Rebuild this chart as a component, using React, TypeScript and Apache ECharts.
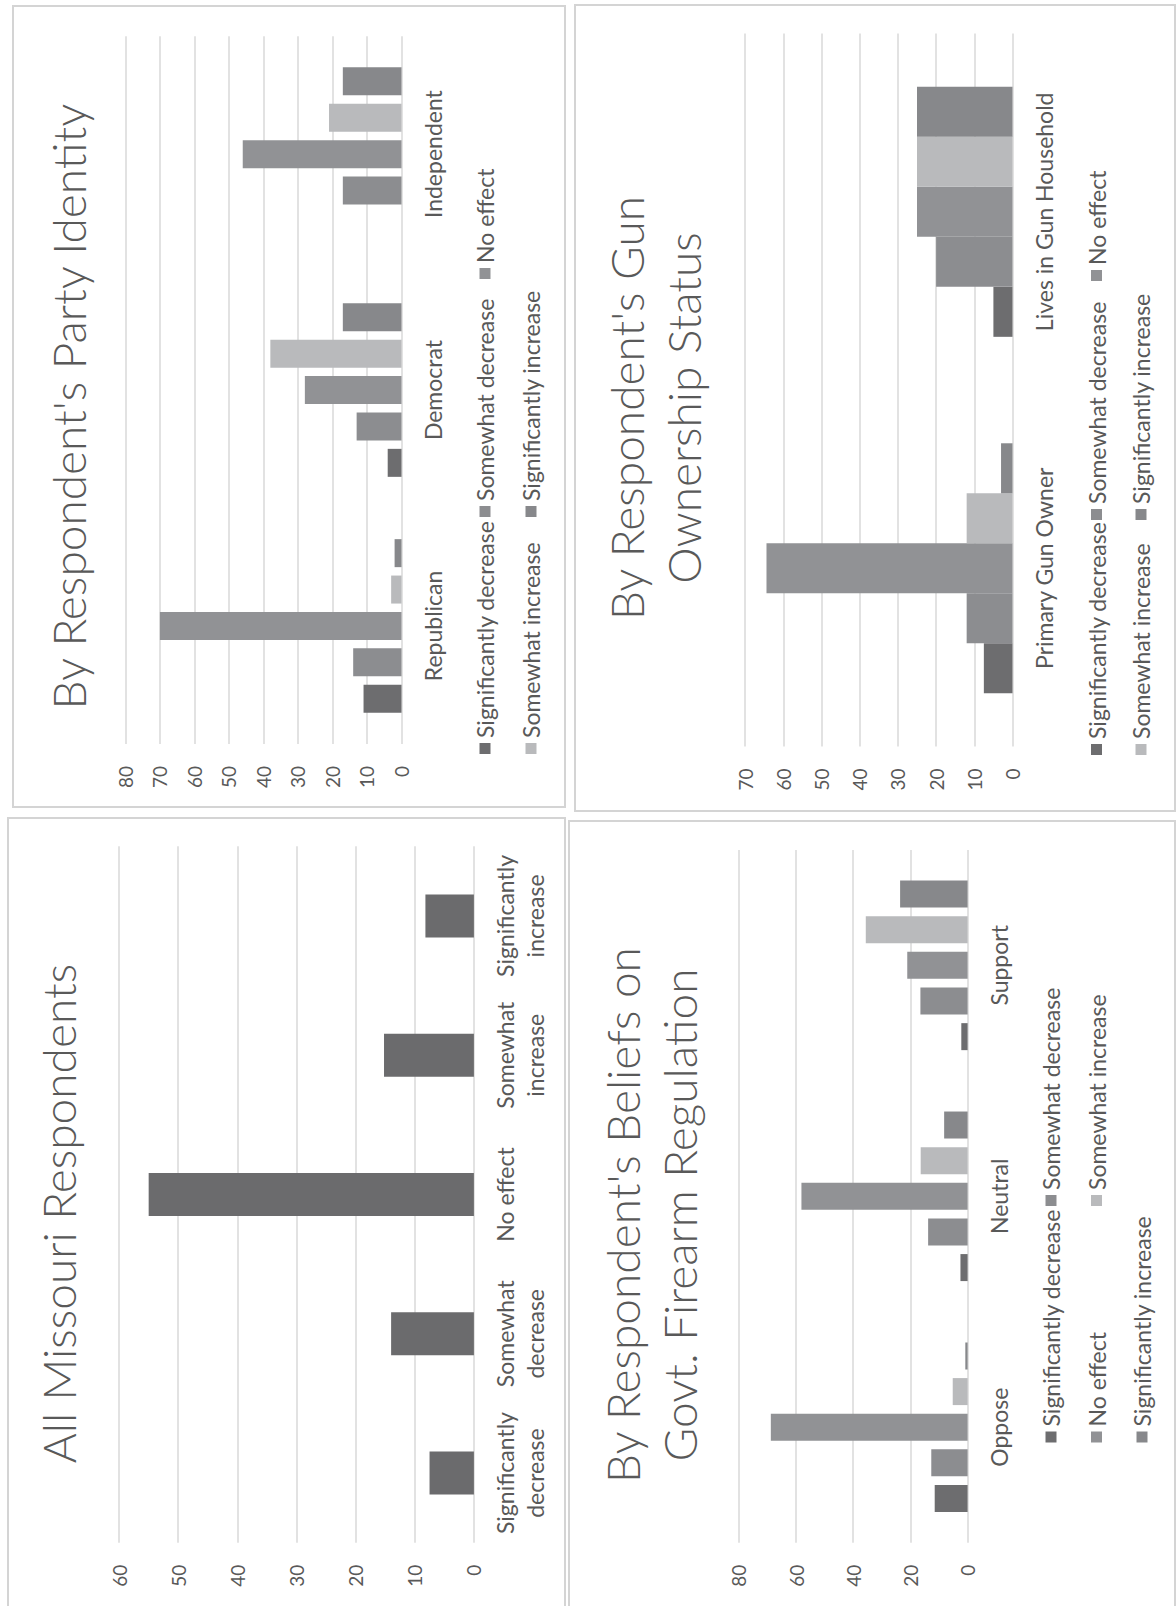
import React, { useEffect, useRef } from 'react';
import * as echarts from 'echarts';

const FONT = 'Lato, "Open Sans", sans-serif';
const TEXT_COLOR = '#595959';
const GRID_COLOR = '#d9d9d9';
const BORDER_COLOR = '#d4d4d4';

// ---------- data ----------
const responseNames = [
  'Significantly decrease',
  'Somewhat decrease',
  'No effect',
  'Somewhat increase',
  'Significantly increase',
];
const responseColors = ['#6d6d6f', '#8c8d90', '#919295', '#b9babc', '#87888b'];

const allCategories = [
  'Significantly\ndecrease',
  'Somewhat\ndecrease',
  'No effect',
  'Somewhat\nincrease',
  'Significantly\nincrease',
];
const allValues = [7.5, 14, 55, 15.2, 8.2];

const partyCategories = ['Republican', 'Democrat', 'Independent'];
const partySigDecrease = [11, 4, 0];
const partySomeDecrease = [14, 13, 17];
const partyNoEffect = [70, 28, 46];
const partySomeIncrease = [3, 38, 21];
const partySigIncrease = [2, 17, 17];

const beliefCategories = ['Oppose', 'Neutral', 'Support'];
const beliefSigDecrease = [11.5, 2.5, 2.2];
const beliefSomeDecrease = [12.7, 13.8, 16.5];
const beliefNoEffect = [68.8, 58.1, 21.1];
const beliefSomeIncrease = [5.2, 16.4, 35.6];
const beliefSigIncrease = [0.8, 8.2, 23.6];

const gunCategories = ['Primary Gun Owner', 'Lives in Gun Household'];
const gunSigDecrease = [7.5, 5];
const gunSomeDecrease = [12, 20];
const gunNoEffect = [64.4, 25];
const gunSomeIncrease = [12, 25];
const gunSigIncrease = [3, 25];

// ---------- option builders ----------
function buildSeries(data: number[][], barWidth: number, barGap: string) {
  return data.map((d, i) => ({
    type: 'bar',
    name: responseNames[i],
    data: d,
    barWidth,
    barGap,
    itemStyle: { color: responseColors[i] },
  }));
}

function legendColumns(cols: { left: number; names: string[] }[], top: number, pitch: number) {
  return cols.map((c) => ({
    orient: 'vertical',
    left: c.left,
    top,
    padding: 0,
    data: c.names,
    icon: 'rect',
    itemWidth: 11,
    itemHeight: 11,
    itemGap: pitch - 28,
    selectedMode: false,
    textStyle: { fontFamily: FONT, fontSize: 23, color: TEXT_COLOR, lineHeight: 28 },
  }));
}

function baseOption(cfg: any) {
  return {
    animation: false,
    title: {
      text: cfg.title,
      left: 'center',
      top: cfg.titleTop,
      padding: 0,
      textStyle: {
        fontFamily: FONT,
        fontSize: 46,
        fontWeight: 300,
        color: TEXT_COLOR,
        lineHeight: 57,
      },
    },
    grid: cfg.grid,
    xAxis: {
      type: 'category',
      data: cfg.categories,
      axisLine: { show: false },
      axisTick: { show: false },
      axisLabel: {
        interval: 0,
        fontFamily: FONT,
        fontSize: 23,
        lineHeight: 30,
        color: TEXT_COLOR,
        margin: 16,
      },
    },
    yAxis: {
      type: 'value',
      min: 0,
      max: cfg.max,
      interval: cfg.interval,
      axisLine: { show: false },
      axisTick: { show: false },
      splitLine: { lineStyle: { color: GRID_COLOR, width: 1.5 } },
      axisLabel: { fontFamily: FONT, fontSize: 19, color: TEXT_COLOR, margin: 22 },
    },
    legend: cfg.legend || [],
    series: cfg.series,
  };
}

const allOption = baseOption({
  title: 'All Missouri Respondents',
  titleTop: 23,
  grid: { left: 67.3, top: 112.1, width: 696.4, height: 354.8 },
  categories: allCategories,
  max: 60,
  interval: 10,
  series: [
    {
      type: 'bar',
      name: 'All Missouri Respondents',
      data: allValues,
      barWidth: 43,
      itemStyle: { color: '#6b6b6d' },
    },
  ],
});

const partyOption = baseOption({
  title: "By Respondent's Party Identity",
  titleTop: 27.5,
  grid: { left: 64.1, top: 113.4, width: 707.7, height: 276.1 },
  categories: partyCategories,
  max: 80,
  interval: 10,
  series: buildSeries(
    [partySigDecrease, partySomeDecrease, partyNoEffect, partySomeIncrease, partySigIncrease],
    28,
    '30%'
  ),
  legend: legendColumns(
    [
      { left: 54, names: ['Significantly decrease', 'Somewhat increase'] },
      { left: 291, names: ['Somewhat decrease', 'Significantly increase'] },
      { left: 529, names: ['No effect'] },
    ],
    459,
    46
  ),
});

const beliefOption = baseOption({
  title: "By Respondent's Beliefs on\nGovt. Firearm Regulation",
  titleTop: 25.75,
  grid: { left: 67.3, top: 170.8, width: 692.8, height: 228.8 },
  categories: beliefCategories,
  max: 80,
  interval: 20,
  series: buildSeries(
    [beliefSigDecrease, beliefSomeDecrease, beliefNoEffect, beliefSomeIncrease, beliefSigIncrease],
    27,
    '32%'
  ),
  legend: legendColumns(
    [
      { left: 167.5, names: ['Significantly decrease', 'No effect', 'Significantly increase'] },
      { left: 404, names: ['Somewhat decrease', 'Somewhat increase'] },
    ],
    469,
    45.5
  ),
});

const gunOption = baseOption({
  title: "By Respondent's Gun\nOwnership Status",
  titleTop: 23.5,
  grid: { left: 65.5, top: 171.1, width: 712.9, height: 267.4 },
  categories: gunCategories,
  max: 70,
  interval: 10,
  series: buildSeries(
    [gunSigDecrease, gunSomeDecrease, gunNoEffect, gunSomeIncrease, gunSigIncrease],
    50,
    '0%'
  ),
  legend: legendColumns(
    [
      { left: 57, names: ['Significantly decrease', 'Somewhat increase'] },
      { left: 292, names: ['Somewhat decrease', 'Significantly increase'] },
      { left: 531, names: ['No effect'] },
    ],
    508.5,
    44.5
  ),
});

// ---------- components ----------
type PanelProps = { left: number; top: number; width: number; height: number; option: any };

function Panel({ left, top, width, height, option }: PanelProps) {
  const ref = useRef<HTMLDivElement>(null);
  useEffect(() => {
    if (!ref.current) return;
    const chart = echarts.init(ref.current, null, { renderer: 'svg' });
    chart.setOption(option);
    return () => chart.dispose();
  }, [option]);
  return (
    <>
      <div ref={ref} style={{ position: 'absolute', left, top, width, height }} />
      <div
        style={{
          position: 'absolute',
          left,
          top,
          width,
          height,
          border: `2px solid ${BORDER_COLOR}`,
          boxSizing: 'border-box',
          pointerEvents: 'none',
        }}
      />
    </>
  );
}

export default function App() {
  return (
    <div
      style={{
        position: 'fixed',
        left: 0,
        top: 0,
        width: 1176,
        height: 1606,
        overflow: 'hidden',
        background: '#ffffff',
      }}
    >
      <div
        style={{
          position: 'absolute',
          left: 0,
          top: 0,
          width: 1606,
          height: 1176,
          transformOrigin: '0 0',
          transform: 'translate(0px, 1606px) rotate(-90deg)',
        }}
      >
        <Panel left={-4} top={7} width={793} height={559} option={allOption} />
        <Panel left={798} top={12} width={803} height={554} option={partyOption} />
        <Panel left={-4} top={568} width={790} height={608} option={beliefOption} />
        <Panel left={794} top={574} width={808} height={602} option={gunOption} />
      </div>
    </div>
  );
}
